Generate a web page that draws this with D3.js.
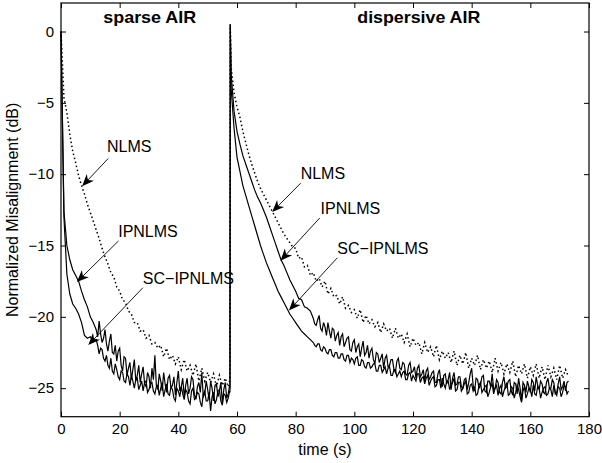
<!DOCTYPE html>
<html>
<head>
<meta charset="utf-8">
<script src="https://cdn.jsdelivr.net/npm/d3@7"></script>
<style>
html,body{margin:0;padding:0;background:#fff;}
svg{display:block;font-family:"Liberation Sans",Arial,Helvetica,sans-serif;}
</style>
</head>
<body>
<svg id="chart" width="602" height="463"></svg>
<script>
// ---------- data ----------
const xTicks = [0, 20, 40, 60, 80, 100, 120, 140, 160, 180];
const yTicks = [0, -5, -10, -15, -20, -25];
const xLabel = "time (s)";
const yLabel = "Normalized Misalignment (dB)";

// sampling instants (s): NLMS every 1 s, the solid curves every 0.5 s in their noisy part
const tSparseN = [...d3.range(0, 58, 1), 57.6];
const tDispN = [57.7, ...d3.range(58, 174, 1)];
const tSparseS = [...d3.range(0, 12, 1), ...d3.range(12, 58, 0.5), 57.6];
const tDispS = [57.7, ...d3.range(58, 86, 1), ...d3.range(86, 173.5, 0.5)];

// sparse AIR segment
const nlmsSparse = [0, -4.6, -5.7, -7.2, -8.4, -9.2, -10.1, -10.8, -11.4, -12.1,
  -12.7, -13.3, -13.9, -14.5, -15.2, -15.8, -16.3, -16.9, -17.2, -17.9,
  -18.2, -18.8, -19.0, -19.6, -19.8, -20.4, -20.4, -21.0,
  -20.9, -21.5, -21.3, -21.9, -21.8, -22.2, -22.0, -22.8, -22.2, -23.0,
  -22.7, -23.3, -22.8, -23.7, -23.0, -23.8, -23.4, -24.1, -23.3, -24.5,
  -23.6, -24.5, -23.9, -24.6, -24.0, -24.9, -24.1, -24.8, -24.3, -24.9,
  -24.4];
const ipnlmsSparse = [0, -12.6, -15.0, -16.0, -16.7, -17.1, -17.5, -18.2, -18.8, -19.3, -20.0, -20.4,
  -20.9, -21.4, -20.3, -21.2, -21.8, -21.5, -20.9, -21.9, -22.4, -21.7,
  -21.2, -22.5, -22.6, -22.0, -23.1, -22.4, -22.2, -23.4, -23.8, -22.8,
  -22.9, -24.1, -23.6, -23.2, -24.4, -23.7, -23.0, -24.5, -24.1, -23.4,
  -24.6, -24.0, -23.5, -24.7, -24.9, -23.9, -24.2, -25.0, -23.6, -24.4,
  -22.7, -24.8, -25.1, -24.0, -24.5, -25.2, -23.9, -24.7, -25.3, -24.3,
  -24.1, -25.0, -24.8, -24.2, -25.5, -24.6, -23.8, -25.2, -24.9, -24.3,
  -25.6, -24.8, -24.3, -25.4, -25.0, -24.2, -24.4, -25.5, -25.7, -24.9,
  -24.6, -25.3, -23.9, -25.6, -25.4, -24.5, -25.1, -25.8, -24.5, -25.0,
  -25.9, -24.8, -24.7, -25.6, -25.2, -24.6, -26.0, -25.1, -24.6, -25.7,
  -25.4, -24.8,
  -25.0];
const scipnlmsSparse = [0, -13.0, -17.0, -18.4, -19.1, -19.4, -19.8, -20.4, -21.3, -21.5, -21.4, -21.7,
  -21.6, -22.0, -22.6, -22.2, -22.3, -22.9, -23.1, -22.7, -23.4, -23.6,
  -22.9, -23.8, -24.0, -23.3, -23.7, -24.2, -24.4, -23.8, -23.9, -24.5,
  -24.6, -24.0, -24.2, -24.8, -24.1, -24.5, -25.0, -24.4, -24.3, -25.1,
  -24.8, -24.5, -25.2, -24.6, -24.5, -25.3, -25.1, -24.7, -24.6, -25.2,
  -25.4, -24.9, -24.8, -25.5, -25.0, -24.6, -25.6, -25.1, -24.7, -25.4,
  -25.5, -24.9, -25.1, -25.7, -25.9, -25.0, -25.2, -25.6, -24.9, -25.4,
  -25.8, -25.1, -25.3, -25.9, -26.1, -25.2, -25.0, -25.8, -25.7, -25.3,
  -25.4, -26.0, -26.3, -25.4, -25.2, -25.9, -25.9, -25.3, -26.6, -25.6,
  -25.3, -26.1, -25.8, -25.2, -25.1, -25.9, -26.2, -25.4, -25.5, -26.0,
  -25.7, -25.2,
  -25.3];

// dispersive AIR segment
const nlmsDisp = [0.5,
  -2.5, -4.3, -5.3, -6.0, -7.0, -7.8, -8.6, -9.3, -9.9, -10.5,
  -11.0, -11.4, -11.8, -12.2, -12.6, -13.0, -13.4, -13.8, -14.2, -14.5,
  -14.8, -15.1, -15.2, -15.9, -15.8, -16.5, -16.4, -17.1, -16.9, -17.5,
  -17.3, -17.9, -17.5, -18.4, -18.0, -18.6, -18.5, -19.1, -18.6, -19.4,
  -19.2, -19.7, -19.5, -20.1, -19.5, -20.4, -19.9, -20.5, -20.2, -20.7,
  -20.4, -21.1, -20.5, -21.0, -20.8, -21.5, -20.8, -21.5, -21.2, -21.8,
  -21.2, -22.1, -21.5, -22.0, -21.8, -22.6, -21.8, -22.5, -22.1, -22.8,
  -22.0, -23.0, -22.4, -22.9, -22.5, -23.2, -22.4, -23.4, -22.7, -23.3,
  -22.5, -23.6, -22.9, -23.4, -22.7, -23.7, -23.0, -23.6, -23.1, -23.9,
  -22.9, -23.8, -23.2, -24.0, -23.3, -23.9, -23.1, -24.2, -23.4, -24.0,
  -23.3, -24.3, -23.5, -24.1, -23.3, -24.3, -23.5, -24.4, -23.4, -24.2,
  -23.6, -24.4, -23.4, -24.3, -23.7, -24.2];
const ipnlmsDisp = [0.5,
  -3.0, -5.6, -7.0, -7.9, -8.7, -9.3, -9.9, -10.5, -11.1, -11.6,
  -12.0, -12.5, -13.0, -13.6, -14.2, -14.8, -15.4, -16.0, -16.4, -16.9,
  -17.4, -17.8, -18.2, -18.7, -18.8, -19.3, -19.4, -19.6,
  -20.1, -20.5, -20.6, -20.2, -19.9, -20.8, -21.0, -20.4, -20.7, -21.3,
  -20.4, -21.0, -21.5, -20.8, -20.9, -21.7, -21.3, -21.1, -22.0, -21.4,
  -21.2, -22.1, -21.8, -21.5, -21.4, -22.3, -22.4, -21.8, -21.6, -22.5,
  -22.1, -21.9, -22.8, -22.2, -21.7, -22.7, -22.5, -22.0, -22.9, -22.4,
  -22.2, -23.0, -23.3, -22.5, -22.6, -23.2, -22.9, -22.6, -23.6, -22.9,
  -22.7, -23.5, -23.4, -23.0, -23.0, -23.7, -23.9, -23.1, -22.9, -23.6,
  -23.7, -23.2, -23.3, -24.0, -24.1, -23.4, -23.2, -23.9, -23.8, -23.5,
  -24.3, -23.6, -23.4, -24.2, -24.0, -23.7, -24.5, -23.8, -23.6, -24.4,
  -24.2, -23.9, -23.8, -24.6, -24.6, -24.0, -23.7, -24.5, -24.9, -24.1,
  -24.0, -24.7, -24.4, -23.9, -25.1, -24.3, -23.9, -24.8, -24.7, -24.2,
  -24.2, -24.9, -25.0, -24.4, -24.3, -25.1, -24.6, -24.0, -23.6, -24.8,
  -25.2, -24.3, -24.4, -25.0, -24.8, -24.2, -24.1, -25.2, -25.3, -24.5,
  -24.5, -24.9, -24.0, -25.1, -25.0, -24.4, -24.6, -25.3, -25.4, -24.6,
  -24.2, -25.0, -24.9, -24.5, -24.4, -25.2, -25.5, -24.6, -24.7, -25.4,
  -24.3, -25.0, -25.9, -24.6, -24.8, -25.3, -24.5, -24.9, -25.3, -24.4,
  -24.6, -25.2, -24.2, -24.8, -25.1, -24.5, -24.7, -25.3, -25.4, -24.6,
  -24.3, -25.0, -25.0, -24.4, -24.6, -25.4, -25.3, -24.7, -24.2, -25.1,
  -24.9, -24.5, -25.2, -24.6,
  -24.5];
const scipnlmsDisp = [0.5,
  -4.0, -6.8, -8.8, -9.8, -10.8, -11.5, -12.2, -12.9, -13.6, -14.3,
  -15.0, -15.6, -16.2, -16.7, -17.2, -17.7, -18.2, -18.6, -19.0, -19.4,
  -19.8, -20.1, -20.4, -20.7, -21.0, -21.2, -21.4, -21.6,
  -21.8, -22.0, -22.1, -21.9, -21.9, -22.3, -22.4, -22.1, -22.2, -22.5,
  -22.6, -22.3, -22.3, -22.7, -22.8, -22.5, -22.5, -22.9, -22.9, -22.6,
  -22.6, -23.0, -23.1, -22.7, -22.7, -23.2, -22.9, -23.0, -23.3, -22.9,
  -22.8, -23.4, -23.4, -23.0, -23.1, -23.5, -23.6, -23.2, -23.2, -23.6,
  -23.5, -23.3, -23.3, -23.8, -23.8, -23.4, -23.4, -23.9, -23.7, -23.5,
  -24.0, -23.6, -23.5, -24.1, -24.1, -23.7, -23.7, -24.2, -24.0, -23.8,
  -24.2, -23.9, -23.8, -24.4, -24.4, -24.0, -23.9, -24.5, -24.1, -24.3,
  -24.5, -24.0, -24.0, -24.6, -24.3, -24.2, -24.7, -24.3, -24.1, -24.8,
  -24.5, -24.3, -24.2, -24.9, -24.8, -24.4, -24.4, -25.0, -24.3, -24.7,
  -25.0, -24.5, -24.5, -25.1, -24.8, -24.6, -24.3, -25.2, -25.1, -24.6,
  -24.6, -25.2, -25.0, -24.7, -24.5, -25.4, -25.3, -24.8, -24.7, -25.2,
  -24.9, -25.5, -25.4, -24.8, -24.6, -25.3, -25.1, -24.9, -24.8, -25.6,
  -25.3, -24.9, -24.7, -25.4, -25.0, -24.8, -25.5, -25.0, -24.8, -25.6,
  -25.2, -24.9, -24.6, -25.5, -25.4, -24.9, -25.0, -25.7, -25.3, -24.8,
  -25.1, -25.6, -26.0, -25.2, -24.9, -25.7, -25.4, -25.0, -25.1, -25.6,
  -24.8, -25.4, -25.5, -24.9, -25.0, -25.7, -25.3, -25.0, -24.9, -25.5,
  -25.4, -25.0, -25.1, -25.6, -24.8, -25.3, -25.5, -24.9, -25.0, -25.6,
  -25.3, -24.8, -24.9, -25.4,
  -25.2];

const sectionTitles = ["sparse AIR", "dispersive AIR"];

// annotation anchors in data units: text position, arrow start, arrow tip
const labelPos = [
  {name: "NLMS",           tx: 15.7, tv: -8.45,  sx: 16.1, sv: -8.9,   ex: 7.2,  ev: -10.84},
  {name: "IPNLMS",         tx: 19.5, tv: -14.38, sx: 19.6, sv: -14.68, ex: 5.4,  ev: -17.56},
  {name: "SC\u2212IPNLMS", tx: 27.9, tv: -17.68, sx: 27.9, sv: -17.96, ex: 9.3,  ev: -21.98},
  {name: "NLMS",           tx: 81.7, tv: -10.35, sx: 81.7, sv: -10.63, ex: 72.0, ev: -12.65},
  {name: "IPNLMS",         tx: 88.5, tv: -12.79, sx: 88.2, sv: -13.07, ex: 74.8, ev: -16.07},
  {name: "SC\u2212IPNLMS", tx: 94.2, tv: -15.58, sx: 94.2, sv: -15.86, ex: 77.7, ev: -19.56}
];
const titlePos = [{t: 14.4, v: 0.6, len: 93}, {t: 101.0, v: 0.6, len: 123}];

// ---------- drawing ----------
const svg = d3.select("#chart");
const L = 61, R = 589, T = 3, B = 416.7;
const x = d3.scaleLinear().domain([0, 180]).range([L, R]);
const y = d3.scaleLinear().domain([-27, 2]).range([B, T]);

const line = d3.line().x(d => x(d[0])).y(d => y(d[1]));
function pairs(ts, vs) { return ts.map((t, i) => [t, vs[i]]); }

const nlms = pairs(tSparseN, nlmsSparse).concat(pairs(tDispN, nlmsDisp));
const ipnlms = pairs(tSparseS, ipnlmsSparse).concat(pairs(tDispS, ipnlmsDisp));
const scipnlms = pairs(tSparseS, scipnlmsSparse).concat(pairs(tDispS, scipnlmsDisp));

const plot = svg.append("g");
plot.append("path").datum(nlms).attr("d", line)
  .attr("fill", "none").attr("stroke", "#000").attr("stroke-width", 1.5)
  .attr("stroke-dasharray", "1.5,2.6");
plot.append("path").datum(ipnlms).attr("d", line)
  .attr("fill", "none").attr("stroke", "#000").attr("stroke-width", 1.2);
plot.append("path").datum(scipnlms).attr("d", line)
  .attr("fill", "none").attr("stroke", "#000").attr("stroke-width", 1.2);

// axes (ticks pointing inward, MATLAB style)
const fs = 15;
const gx = svg.append("g").attr("transform", `translate(0,${B})`)
  .call(d3.axisBottom(x).tickValues(xTicks).tickSizeInner(-5).tickSizeOuter(0).tickPadding(7));
const gxt = svg.append("g").attr("transform", `translate(0,${T})`)
  .call(d3.axisTop(x).tickValues(xTicks).tickSizeInner(-5).tickSizeOuter(0).tickFormat(""));
const gy = svg.append("g").attr("transform", `translate(${L},0)`)
  .call(d3.axisLeft(y).tickValues(yTicks).tickSizeInner(-5).tickSizeOuter(0).tickPadding(7));
const gyr = svg.append("g").attr("transform", `translate(${R},0)`)
  .call(d3.axisRight(y).tickValues(yTicks).tickSizeInner(-5).tickSizeOuter(0).tickFormat(""));
[gx, gxt, gy, gyr].forEach(g => {
  g.select(".domain").remove();
  g.selectAll("line").attr("stroke", "#000");
  g.selectAll("text").attr("font-size", fs).attr("fill", "#000")
    .attr("font-family", '"Liberation Sans",Arial,sans-serif');
});
svg.append("rect").attr("x", L).attr("y", T).attr("width", R - L).attr("height", B - T)
  .attr("fill", "none").attr("stroke", "#000").attr("stroke-width", 1.2);

svg.append("text").attr("x", (L + R) / 2).attr("y", 455).attr("text-anchor", "middle")
  .attr("font-size", 16).text(xLabel);
svg.append("text").attr("transform", `translate(18,${(T + B) / 2}) rotate(-90)`)
  .attr("text-anchor", "middle").attr("font-size", 16).text(yLabel);

// section titles
titlePos.forEach((p, i) => {
  svg.append("text").attr("x", x(p.t)).attr("y", y(p.v))
    .attr("font-size", 16.5).attr("font-weight", "bold")
    .attr("textLength", p.len).attr("lengthAdjust", "spacingAndGlyphs").text(sectionTitles[i]);
});

// annotations with arrows
labelPos.forEach(p => {
  svg.append("text").attr("x", x(p.tx)).attr("y", y(p.tv)).attr("font-size", 16).text(p.name);
  const x0 = x(p.sx), y0 = y(p.sv), x1 = x(p.ex), y1 = y(p.ev);
  const dx = x1 - x0, dy = y1 - y0, len = Math.hypot(dx, dy);
  const ux = dx / len, uy = dy / len, nx = -uy, ny = ux;
  const hl = 12, hw = 5, notch = 3.5;
  const bx = x1 - ux * hl, by = y1 - uy * hl;
  svg.append("line").attr("x1", x0).attr("y1", y0).attr("x2", x1 - ux * 6).attr("y2", y1 - uy * 6)
    .attr("stroke", "#000").attr("stroke-width", 0.9);
  const head = [[x1, y1], [bx + nx * hw, by + ny * hw], [x1 - ux * (hl - notch), y1 - uy * (hl - notch)], [bx - nx * hw, by - ny * hw]];
  svg.append("path").attr("d", "M" + head.map(q => q.join(",")).join("L") + "Z").attr("fill", "#000");
});
</script>
</body>
</html>
